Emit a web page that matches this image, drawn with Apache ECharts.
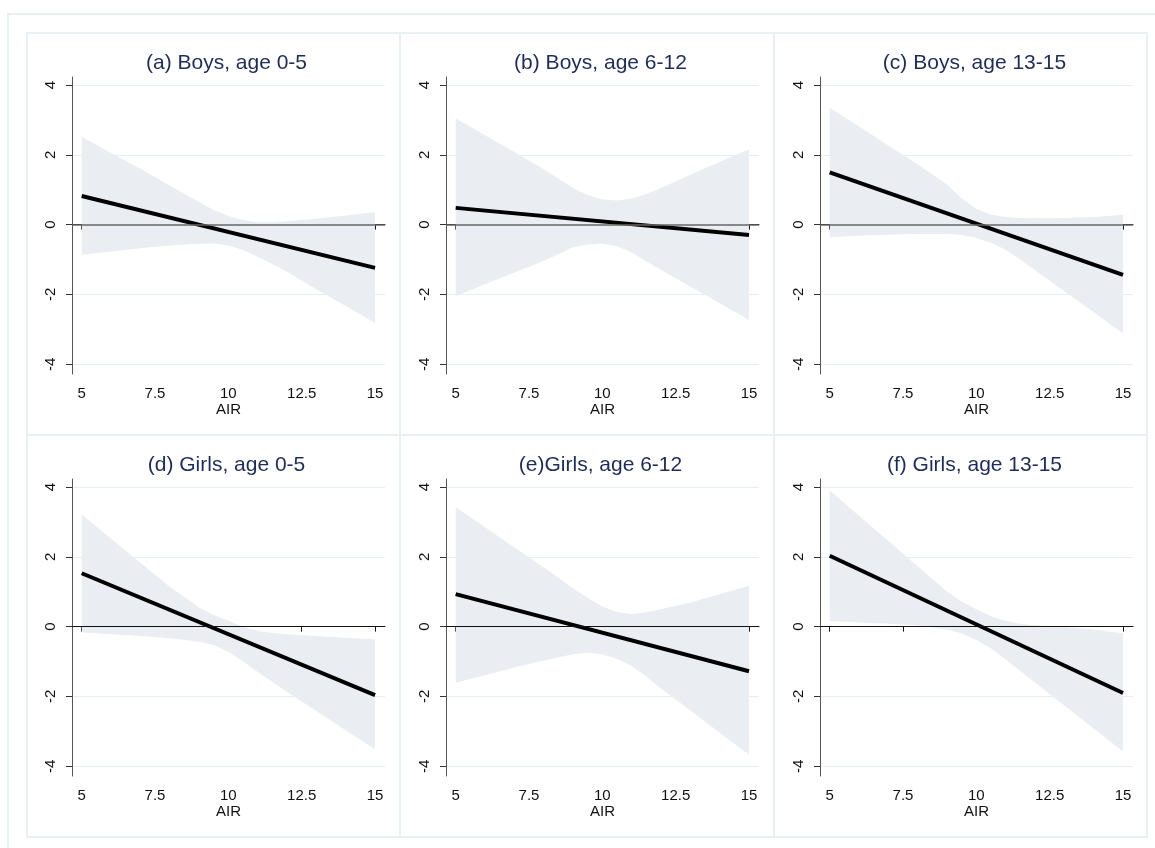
<!DOCTYPE html>
<html>
<head>
<meta charset="utf-8">
<title>AIR effects by sex and age</title>
<script src="https://cdn.jsdelivr.net/npm/echarts@6/dist/echarts.min.js"></script>
<style>
  html, body { margin: 0; padding: 0; background: #fff; }
  #chart { width: 1155px; height: 848px; }
</style>
</head>
<body>
<div id="chart"></div>
<script>
  var bandX = [5, 6, 7, 8, 9, 9.5, 10, 10.5, 11, 11.5, 12, 13, 14, 15];
  // fitted line endpoints
  var fitX = [5, 15];
  var xTicks = [5, 7.5, 10, 12.5, 15];
  var yTicks = [-4, -2, 0, 2, 4];

  var titles = [
    '(a) Boys, age 0-5', '(b) Boys, age 6-12', '(c) Boys, age 13-15',
    '(d) Girls, age 0-5', '(e)Girls, age 6-12', '(f) Girls, age 13-15'
  ];

  var fitA = [0.82, -1.24];
  var upA  = [2.52, 2.05, 1.6, 1.12, 0.65, 0.42, 0.25, 0.13, 0.07, 0.07, 0.1, 0.17, 0.26, 0.36];
  var lowA = [-0.86, -0.77, -0.68, -0.6, -0.55, -0.54, -0.6, -0.73, -0.92, -1.13, -1.35, -1.85, -2.33, -2.82];

  var fitB = [0.48, -0.30];
  var upB  = [3.05, 2.56, 2.08, 1.59, 1.05, 0.85, 0.72, 0.69, 0.75, 0.88, 1.05, 1.43, 1.8, 2.16];
  var lowB = [-2.05, -1.71, -1.37, -1.04, -0.65, -0.57, -0.54, -0.62, -0.8, -1.05, -1.3, -1.77, -2.25, -2.73];

  var fitC = [1.5, -1.44];
  var upC  = [3.35, 2.81, 2.27, 1.73, 1.15, 0.75, 0.45, 0.29, 0.22, 0.19, 0.18, 0.19, 0.22, 0.28];
  var lowC = [-0.36, -0.32, -0.29, -0.27, -0.27, -0.3, -0.38, -0.52, -0.72, -1.0, -1.31, -1.91, -2.51, -3.12];

  var fitD = [1.53, -1.96];
  var upD  = [3.21, 2.52, 1.83, 1.14, 0.55, 0.33, 0.17, 0.0, -0.12, -0.18, -0.22, -0.27, -0.32, -0.36];
  var lowD = [-0.17, -0.22, -0.27, -0.33, -0.43, -0.53, -0.72, -0.99, -1.3, -1.59, -1.87, -2.42, -2.97, -3.51];

  var fitE = [0.93, -1.28];
  var upE  = [3.42, 2.85, 2.27, 1.7, 1.1, 0.82, 0.58, 0.42, 0.36, 0.41, 0.5, 0.69, 0.93, 1.17];
  var lowE = [-1.61, -1.39, -1.17, -0.97, -0.79, -0.75, -0.79, -0.93, -1.13, -1.43, -1.77, -2.4, -3.04, -3.67];

  var fitF = [2.03, -1.9];
  var upF  = [3.9, 3.18, 2.45, 1.73, 1.0, 0.72, 0.5, 0.3, 0.16, 0.08, 0.04, 0.0, -0.08, -0.19];
  var lowF = [0.16, 0.12, 0.08, 0.03, -0.08, -0.2, -0.38, -0.63, -0.94, -1.27, -1.6, -2.26, -2.92, -3.58];

  var panels = [
    { fit: fitA, up: upA, low: lowA },
    { fit: fitB, up: upB, low: lowB },
    { fit: fitC, up: upC, low: lowC },
    { fit: fitD, up: upD, low: lowD },
    { fit: fitE, up: upE, low: lowE },
    { fit: fitF, up: upF, low: lowF }
  ];

  var chart = echarts.init(document.getElementById('chart'));

  var font = 'Liberation Sans, Arial, sans-serif';
  var bandColor = '#eaeef2';
  var gridColor = '#e6eef0';
  var frameColor = '#e9f0f1';

  var colLeft = [72, 446, 820];
  var rowTop = [77, 479];
  var plotW = 313, plotH = 297;

  var grids = [], xAxes = [], yAxes = [], titleList = [], series = [];

  // one polygon per panel: upper edge left to right, lower edge back
  function renderBand(params, api) {
    if (params.dataIndexInside !== 0) return null;
    var n = params.dataInsideLength;
    var pts = [];
    for (var k = 0; k < n; k++) pts.push(api.coord([api.value(0, k), api.value(2, k)]));
    for (var j = n - 1; j >= 0; j--) pts.push(api.coord([api.value(0, j), api.value(1, j)]));
    return {
      type: 'polygon',
      shape: { points: pts },
      style: { fill: bandColor, stroke: null }
    };
  }

  panels.forEach(function (p, i) {
    var row = Math.floor(i / 3), col = i % 3;
    grids.push({ left: colLeft[col], top: rowTop[row], width: plotW, height: plotH });

    titleList.push({
      text: titles[i],
      left: colLeft[col] + plotW / 2 - 7,
      top: rowTop[row] - 29,
      textAlign: 'center',
      textStyle: { fontFamily: font, fontSize: 21, fontWeight: 'normal', color: '#1e2c57' }
    });

    xAxes.push({
      gridIndex: i, type: 'value', min: 4.67, max: 15.34,
      name: 'AIR', nameLocation: 'middle', nameGap: 26,
      nameTextStyle: { fontFamily: font, fontSize: 15, color: '#111' },
      axisLine: { lineStyle: { color: '#111', width: 1 } },
      axisTick: { show: true, length: 5, customValues: xTicks, lineStyle: { color: '#111' } },
      axisLabel: { customValues: xTicks, fontFamily: font, fontSize: 15, color: '#111', margin: 12 },
      splitLine: { show: false }
    });

    yAxes.push({
      gridIndex: i, type: 'value', min: -4.28, max: 4.23,
      axisLine: { show: true, lineStyle: { color: '#555', width: 1 } },
      axisTick: { show: true, length: 6, customValues: yTicks, lineStyle: { color: '#333' } },
      axisLabel: { customValues: yTicks, rotate: 90, fontFamily: font, fontSize: 15, color: '#111', margin: 14 },
      splitLine: { show: true, lineStyle: { color: gridColor, width: 1 } }
    });

    series.push({
      type: 'custom', xAxisIndex: i, yAxisIndex: i,
      data: bandX.map(function (x, k) { return [x, p.low[k], p.up[k]]; }),
      encode: { x: 0, y: [1, 2] },
      renderItem: renderBand,
      silent: true
    });
    series.push({
      type: 'line', xAxisIndex: i, yAxisIndex: i,
      data: fitX.map(function (x, k) { return [x, p.fit[k]]; }),
      symbol: 'none', silent: true,
      lineStyle: { color: '#000', width: 4 },
      markLine: {
        silent: true, symbol: 'none', label: { show: false },
        lineStyle: { color: row === 0 ? '#666' : '#111', width: row === 0 ? 1.5 : 1, type: 'solid' },
        data: [{ yAxis: 0 }]
      }
    });
  });

  var panelX = [27, 400, 774, 1147];
  var panelY = [33, 435, 837];
  var frames = [{
    type: 'rect', silent: true,
    shape: { x: 8, y: 14, width: 1165, height: 850 },
    style: { fill: null, stroke: frameColor, lineWidth: 2 }
  }];
  for (var r = 0; r < 2; r++) {
    for (var c = 0; c < 3; c++) {
      frames.push({
        type: 'rect', silent: true,
        shape: { x: panelX[c], y: panelY[r], width: panelX[c + 1] - panelX[c], height: panelY[r + 1] - panelY[r] },
        style: { fill: null, stroke: frameColor, lineWidth: 2 }
      });
    }
  }

  chart.setOption({
    backgroundColor: '#fff',
    animation: false,
    title: titleList,
    grid: grids,
    xAxis: xAxes,
    yAxis: yAxes,
    series: series,
    graphic: frames
  });
</script>
</body>
</html>
